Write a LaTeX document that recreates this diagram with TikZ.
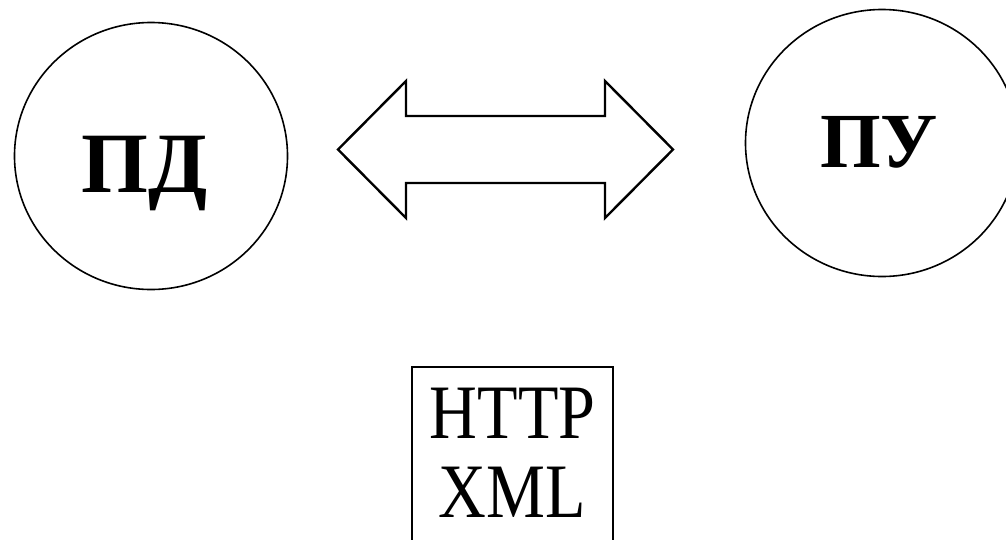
\documentclass[tikz,border=0pt]{standalone}
\usepackage{fontspec}
\usetikzlibrary{shapes.geometric}
\setmainfont{Liberation Serif}
\begin{document}
\begin{tikzpicture}[x=1pt,y=-1pt,
  circ/.style={draw,ellipse,line width=1.6pt,minimum width=273pt,minimum height=267pt,inner sep=0pt},
  boldlbl/.style={font=\fontsize{86}{86}\selectfont\bfseries,inner sep=0pt,anchor=base},
  boxlbl/.style={font=\fontsize{77}{77}\selectfont,inner sep=0pt,anchor=base},
  blockarrow/.style={draw,line width=2.4pt,line join=miter,fill=white},
  protobox/.style={draw,line width=1.4pt,inner sep=0pt}]
\useasboundingbox (0,0) rectangle (1006,539);
\node[circ] (pd) at (151,156) {};
\node[circ] (pu) at (882,143) {};
\node[boldlbl] (pdt) at (145,192) {ПД};
\node[boldlbl,font=\fontsize{78}{78}\selectfont\bfseries] (put) at (879,167) {ПУ};
\draw[blockarrow] (338,149.5) -- (406,81) -- (406,116) -- (605,116) -- (605,81)
  -- (673,149.5) -- (605,218) -- (605,183) -- (406,183) -- (406,218) -- cycle;
\node[protobox,minimum width=201pt,minimum height=178pt] (box) at (512.5,456) {};
\node[boxlbl] (http) at (512.5,438) {\scalebox{0.86}[1]{HTTP}};
\node[boxlbl] (xml) at (512.5,517) {\scalebox{0.86}[1]{XML}};
\end{tikzpicture}
\end{document}
